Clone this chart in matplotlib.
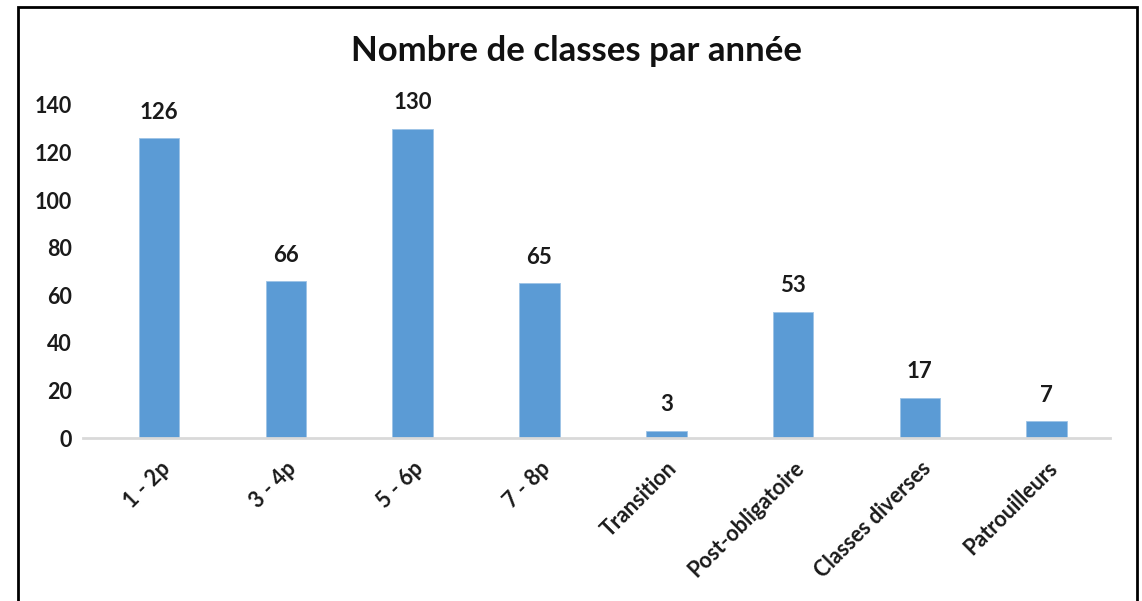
import matplotlib
matplotlib.use("Agg")
import matplotlib.pyplot as plt
from matplotlib.patches import Rectangle

categories = ["1 - 2p", "3 - 4p", "5 - 6p", "7 - 8p", "Transition",
              "Post-obligatoire", "Classes diverses", "Patrouilleurs"]
values = [126, 66, 130, 65, 3, 53, 17, 7]
yticks = [0, 20, 40, 60, 80, 100, 120, 140]

plt.rcParams['font.family'] = ['Lato', 'DejaVu Sans']

fig = plt.figure(figsize=(11.42, 6.01), dpi=100)
ax = fig.add_axes([0.0727, 0.2712, 0.8993, 0.5541])

x = range(len(categories))
bars = ax.bar(x, values, width=0.32, color="#5b9bd5", edgecolor="#9dc3e6", linewidth=0.6)

for xi, v in zip(x, values):
    ax.text(xi, v + 6.5, str(v), ha="center", va="bottom", fontsize=16,
            fontweight="bold", color="#1a1a1a", clip_on=False)

ax.set_xlim(-0.6, len(categories) - 0.5)
ax.set_ylim(0, 140)
ax.set_yticks(yticks)
ax.set_yticklabels([str(t) for t in yticks], fontsize=15.5, fontweight="bold")
ax.set_xticks(list(x))
ax.set_xticklabels(categories, rotation=45, ha="right", rotation_mode="anchor",
                   fontsize=15.5, fontweight="bold")
ax.tick_params(axis="both", length=0, colors="#1a1a1a")
ax.tick_params(axis="y", pad=8)
ax.tick_params(axis="x", pad=14)
for s in ["top", "right", "left"]:
    ax.spines[s].set_visible(False)
ax.spines["bottom"].set_color("#d9d9d9")
ax.spines["bottom"].set_linewidth(2)

fig.text(0.505, 0.915, "Nombre de classes par année", ha="center", va="center",
         fontsize=25, fontweight="bold", color="#111111")

fig.patches.append(Rectangle((18 / 1142, -0.05), (1137 - 18) / 1142, 1 - 7 / 601 + 0.05,
                             transform=fig.transFigure, fill=False,
                             edgecolor="black", linewidth=2))

fig.savefig("out.png", dpi=100)
